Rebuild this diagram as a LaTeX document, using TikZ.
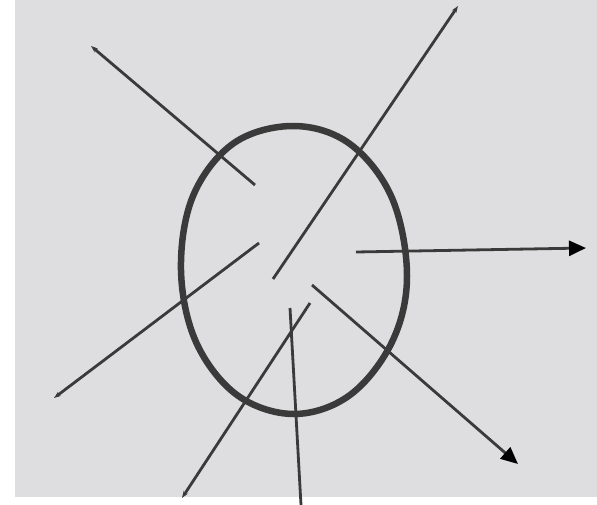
\documentclass[tikz,border=0pt]{standalone}
\usetikzlibrary{arrows.meta}
\definecolor{paper}{RGB}{222,222,224}
\definecolor{ink}{RGB}{58,58,58}
\begin{document}
\begin{tikzpicture}[x=1pt,y=-1pt,
  ray/.style={draw=ink,line width=2.8pt},
  bigtip/.style={-{Triangle[length=17pt,width=15pt,color=black]}},
  smalltip/.style={-{Stealth[length=7pt,width=5pt]}}]
\useasboundingbox (0,0) rectangle (597,505);
\fill[white] (0,0) rectangle (597,505);
\fill[paper] (15,0) rectangle (597,497);
% ellipse (hand drawn egg)
\draw[ink,line width=6.5pt] plot[smooth cycle,tension=0.6] coordinates
 {(294,126) (350,144) (392,198) (407,276) (392,342) (350,395) (294,414) (237,395) (196,342) (181,270) (193,196) (234,143)};
% ray end points
\coordinate (a1) at (255,185); \coordinate (a2) at (91,46);
\coordinate (b1) at (273,279); \coordinate (b2) at (458,6);
\coordinate (c1) at (356,252); \coordinate (c2) at (586,248);
\coordinate (d1) at (312,285); \coordinate (d2) at (518,464);
\coordinate (e1) at (290,308); \coordinate (e2) at (301,505);
\coordinate (f1) at (310,303); \coordinate (f2) at (182,498);
\coordinate (g1) at (259,243); \coordinate (g2) at (54,398);
\draw[ray,smalltip] (a1) -- (a2);
\draw[ray,smalltip] (b1) -- (b2);
\draw[ray,bigtip] (c1) -- (c2);
\draw[ray,bigtip] (d1) -- (d2);
\draw[ray] (e1) -- (e2);
\draw[ray,smalltip] (f1) -- (f2);
\draw[ray,smalltip] (g1) -- (g2);
\end{tikzpicture}
\end{document}
